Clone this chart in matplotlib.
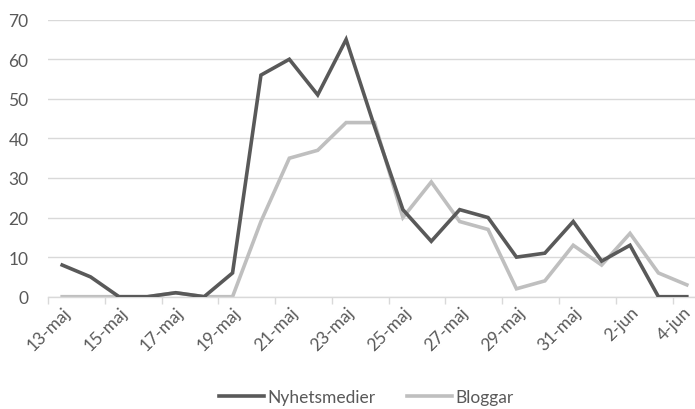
import matplotlib
matplotlib.use("Agg")
import matplotlib.pyplot as plt
import matplotlib.transforms as mtransforms

dates = ["13-maj", "14-maj", "15-maj", "16-maj", "17-maj", "18-maj", "19-maj", "20-maj",
         "21-maj", "22-maj", "23-maj", "24-maj", "25-maj", "26-maj", "27-maj", "28-maj",
         "29-maj", "30-maj", "31-maj", "1-jun", "2-jun", "3-jun", "4-jun"]
nyhetsmedier = [8, 5, 0, 0, 1, 0, 6, 56, 60, 51, 65, 43, 22, 14, 22, 20, 10, 11, 19, 9, 13, 0, 0]
bloggar = [0, 0, 0, 0, 1, 0, 0, 19, 35, 37, 44, 44, 20, 29, 19, 17, 2, 4, 13, 8, 16, 6, 3]
yticks = [0, 10, 20, 30, 40, 50, 60, 70]

plt.rcParams['font.family'] = ['Lato', 'DejaVu Sans']
txt = '#595959'
grid = '#d9d9d9'
fs = 12.5

fig = plt.figure(figsize=(6.95, 4.10), dpi=100)
W, H = 695, 410
left, right = 48, 701
top, bottom = 20.7, 297.7
ax = fig.add_axes([left / W, (H - bottom) / H, (right - left) / W, (bottom - top) / H])

x = list(range(len(dates)))
ax.plot(x, nyhetsmedier, color='#595959', lw=2.6, label='Nyhetsmedier', solid_joinstyle='miter', zorder=3)
ax.plot(x, bloggar, color='#bfbfbf', lw=2.6, label='Bloggar', solid_joinstyle='miter', zorder=2)

ax.set_xlim(-0.5, len(dates) - 0.5)
ax.set_ylim(0, 70)
ax.set_yticks(yticks)
ax.set_yticklabels([str(v) for v in yticks])
ax.yaxis.grid(True, color=grid, lw=1)
ax.set_axisbelow(True)
for s in ['top', 'right', 'left']:
    ax.spines[s].set_visible(False)
ax.spines['bottom'].set_color(grid)
ax.spines['bottom'].set_linewidth(1)
ax.tick_params(axis='y', length=0, labelsize=fs, labelcolor=txt, pad=14)

# category labels every second day, tick marks between categories
ax.set_xticks(x[::2])
ax.set_xticklabels(dates[::2], rotation=45, ha='right', rotation_mode='anchor')
ax.tick_params(axis='x', length=0, labelsize=fs, labelcolor=txt, pad=5)
minor = [i - 0.5 for i in range(0, len(dates), 2)]
ax.set_xticks(minor, minor=True)
ax.tick_params(axis='x', which='minor', length=5, color=grid, width=1)

# nudge the last label so it stays inside the figure, as in the reference
last = ax.get_xticklabels()[-1]
last.set_transform(last.get_transform() + mtransforms.ScaledTranslation(-4 / 100, 0, fig.dpi_scale_trans))

fig.legend(loc='lower center', bbox_to_anchor=(0.527, -0.028), ncol=2, frameon=False,
           fontsize=fs, labelcolor=txt, handlelength=2.6, handletextpad=0.2, columnspacing=1.8)

fig.savefig('out.png', dpi=100)
